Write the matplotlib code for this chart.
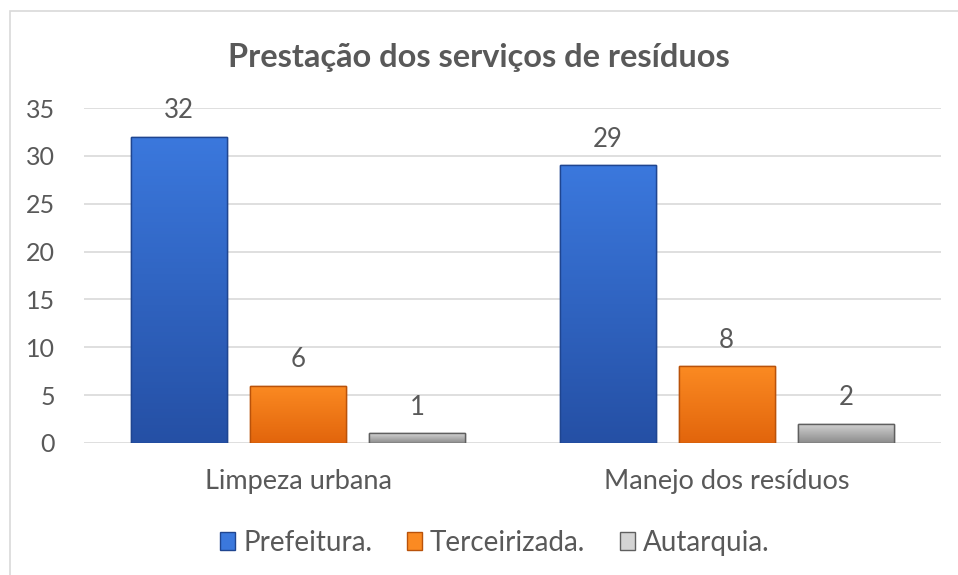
import matplotlib
matplotlib.use("Agg")
import matplotlib.pyplot as plt
import numpy as np
from matplotlib.colors import LinearSegmentedColormap
from matplotlib.patches import Rectangle

plt.rcParams['font.family'] = ['Lato', 'DejaVu Sans']

categories = ['Limpeza urbana', 'Manejo dos resíduos']
series = ['Prefeitura.', 'Terceirizada.', 'Autarquia.']
prefeitura = [32, 29]
terceirizada = [6, 8]
autarquia = [1, 2]
yticks = [0, 5, 10, 15, 20, 25, 30, 35]

txt = '#595959'
# top color, bottom color, edge color
colors = [('#3b78dd', '#2550a5', '#1f4590'),
          ('#fb8a22', '#e2650c', '#b9520a'),
          ('#d4d4d4', '#8c8c8c', '#5f5f5f')]

fig = plt.figure(figsize=(9.58, 5.75), dpi=100)
ax = fig.add_axes([84/958, 1 - 443/575, (941-84)/958, (443-108)/575])

x = np.arange(len(categories))
w = 0.224
off = 0.278
values = [prefeitura, terceirizada, autarquia]
for i, vals in enumerate(values):
    top, bot, edge = colors[i]
    bars = ax.bar(x + (i - 1) * off, vals, w, color=top, edgecolor=edge,
                  linewidth=1.0, zorder=2, label=series[i])
    cmap = LinearSegmentedColormap.from_list('g%d' % i, [bot, top])
    for b, v in zip(bars, vals):
        x0, y0 = b.get_x(), b.get_y()
        h = b.get_height()
        grad = np.linspace(0, 1, 100).reshape(-1, 1)
        im = ax.imshow(grad, cmap=cmap, origin='lower', aspect='auto',
                       extent=(x0, x0 + w, y0, y0 + h), zorder=2.5)
        im.set_clip_path(b)
        ax.add_patch(Rectangle((x0, y0), w, h, fill=False, edgecolor=edge,
                               linewidth=1.0, zorder=3))
        ax.text(x0 + w / 2, v + 1.45, str(v), ha='center', va='bottom',
                fontsize=18.5, color=txt)

ax.set_xlim(-0.5, 1.5)
ax.set_ylim(0, 35)
ax.set_yticks(yticks)
ax.set_xticks(x)
ax.set_xticklabels(categories)
ax.tick_params(axis='y', length=0, pad=21, labelsize=18, labelcolor=txt)
ax.tick_params(axis='x', length=0, pad=19, labelsize=19.5, labelcolor=txt)
ax.grid(axis='y', color='#d9d9d9', linewidth=1.2, zorder=0)
ax.set_axisbelow(True)
for s in ax.spines.values():
    s.set_visible(False)

fig.text(0.5, 1 - 58/575, 'Prestação dos serviços de resíduos', ha='center',
         va='center', fontsize=23.4, fontweight='bold', color=txt)

leg = fig.legend(loc='center', bbox_to_anchor=(495/958, 1 - 543/575), ncol=3,
                 frameon=False, fontsize=20, labelcolor=txt,
                 handlelength=0.54, handleheight=0.6, handletextpad=0.29,
                 columnspacing=1.26)

# chart frame
fig.add_artist(Rectangle((10/958, -0.1), 1.1, 1 - 11/575 + 0.1,
                         transform=fig.transFigure, fill=False,
                         edgecolor='#d9d9d9', linewidth=1.2))

fig.savefig('out.png', dpi=100)
